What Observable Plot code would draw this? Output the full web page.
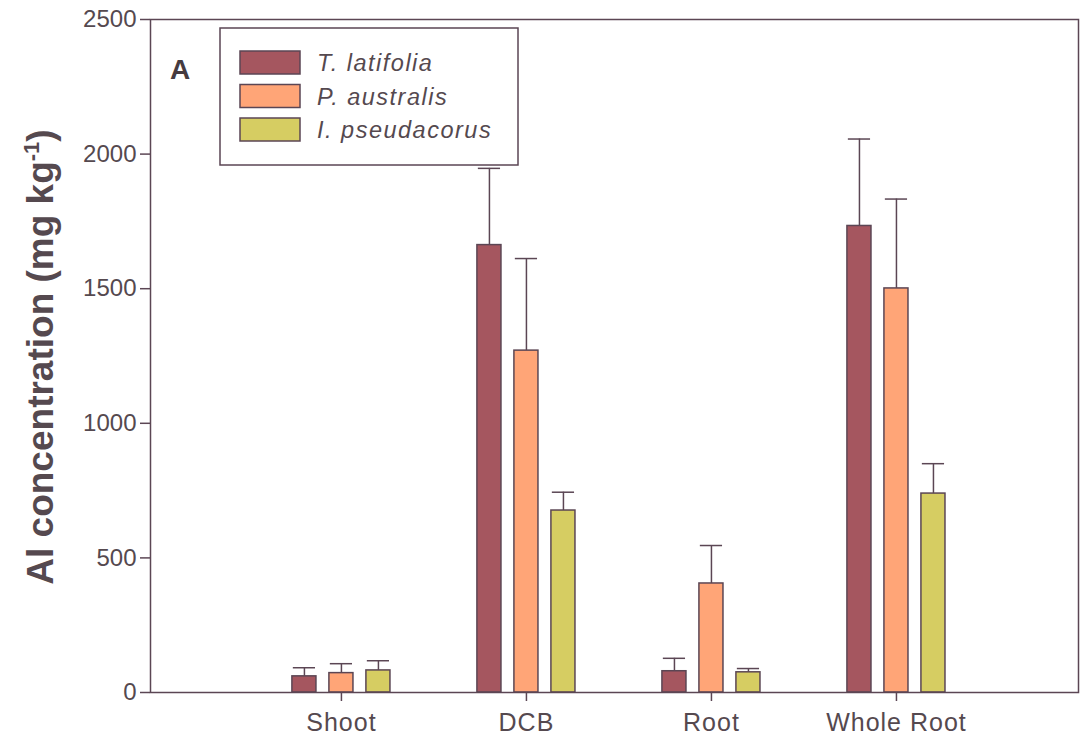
<!DOCTYPE html>
<html>
<head>
<meta charset="utf-8">
<script src="https://cdn.jsdelivr.net/npm/d3@7"></script>
<script src="https://cdn.jsdelivr.net/npm/@observablehq/plot@0.6"></script>
<style>
  html, body { margin: 0; padding: 0; background: #fff; }
  svg { display: block; }
</style>
</head>
<body>
<div id="chart"></div>
<script>
const categories = ["Shoot", "DCB", "Root", "Whole Root"];
const species = ["T. latifolia", "P. australis", "I. pseudacorus"];
const colors = ["#a5565f", "#ffa577", "#d6cd62"];
const tLatifolia = [60, 1662, 79, 1733];
const tLatifoliaErr = [32, 285, 48, 323];
const pAustralis = [72, 1270, 405, 1501];
const pAustralisErr = [35, 342, 141, 332];
const iPseudacorus = [82, 676, 75, 739];
const iPseudacorusErr = [36, 68, 14, 111];
const yTicks = [0, 500, 1000, 1500, 2000, 2500];

const seriesVals = [tLatifolia, pAustralis, iPseudacorus];
const seriesErr = [tLatifoliaErr, pAustralisErr, iPseudacorusErr];
const offset = 0.2, half = 0.065, capHalf = 0.06;
const rows = [];
categories.forEach((c, ci) => {
  species.forEach((s, si) => {
    const center = ci + 1 + (si - 1) * offset;
    rows.push({cat: c, sp: s, si, center, value: seriesVals[si][ci], err: seriesErr[si][ci]});
  });
});

const axisColor = "#5b4654";
const textColor = "#55494f";
const font = "'Liberation Sans', Arial, sans-serif";

const chart = Plot.plot({
  width: 1085,
  height: 751,
  marginLeft: 150,
  marginRight: 7,
  marginTop: 19,
  marginBottom: 59,
  style: {fontFamily: font, background: "#fff"},
  x: {domain: [-0.032, 4.984]},
  y: {domain: [0, 2500]},
  marks: [
    Plot.ruleX(rows, {x: "center", y1: d => d.value, y2: d => d.value + d.err, stroke: axisColor, strokeWidth: 1.5}),
    Plot.ruleY(rows, {y: d => d.value + d.err, x1: d => d.center - capHalf, x2: d => d.center + capHalf, stroke: axisColor, strokeWidth: 1.5}),
    Plot.rectY(rows, {x1: d => d.center - half, x2: d => d.center + half, y1: 0, y2: "value", fill: d => colors[d.si], stroke: axisColor, strokeWidth: 1.5}),
    Plot.frame({stroke: axisColor, strokeWidth: 1.5}),
    Plot.axisY({ticks: yTicks, tickSize: 10, tickPadding: 4, fontSize: 24, fill: textColor, stroke: axisColor, strokeWidth: 1.5, label: null, tickFormat: d => String(d)}),
    Plot.axisX({ticks: [1, 2, 3, 4], tickFormat: i => categories[i - 1], tickSize: 9, tickPadding: 12, fontSize: 25, fill: textColor, stroke: axisColor, strokeWidth: 1.5, label: null})
  ]
});

document.getElementById("chart").appendChild(chart);

const svg = d3.select(chart);
svg.selectAll("g[aria-label='x-axis tick label'] text")
  .attr("letter-spacing", "1px");

// Y-axis title
const t = svg.append("text")
  .attr("transform", "translate(53,357) rotate(-90)")
  .attr("text-anchor", "middle")
  .attr("fill", textColor)
  .attr("font-family", font)
  .attr("font-size", 37)
  .attr("font-weight", "bold");
t.append("tspan").text("Al concentration (mg kg");
t.append("tspan").attr("font-size", 22).attr("dy", -14).text("-1");
t.append("tspan").attr("dy", 14).text(")");

// Panel letter
svg.append("text")
  .attr("x", 170).attr("y", 79)
  .attr("text-anchor", "start")
  .attr("fill", "#463b40")
  .attr("font-family", font)
  .attr("font-size", 28).attr("font-weight", "bold")
  .text("A");

// Legend
const lg = svg.append("g");
lg.append("rect").attr("x", 220).attr("y", 28).attr("width", 298).attr("height", 137)
  .attr("fill", "#fff").attr("stroke", axisColor).attr("stroke-width", 1.5);
species.forEach((s, i) => {
  const yy = 51 + i * 33.5;
  lg.append("rect").attr("x", 240).attr("y", yy).attr("width", 60).attr("height", 23)
    .attr("fill", colors[i]).attr("stroke", axisColor).attr("stroke-width", 1.5);
  lg.append("text").attr("x", 317).attr("y", yy + 12).attr("dy", "0.35em")
    .attr("text-anchor", "start")
    .attr("fill", textColor)
    .attr("font-family", font)
    .attr("font-size", 23.5).attr("font-style", "italic")
    .attr("letter-spacing", "1.5px")
    .text(s);
});
</script>
</body>
</html>
